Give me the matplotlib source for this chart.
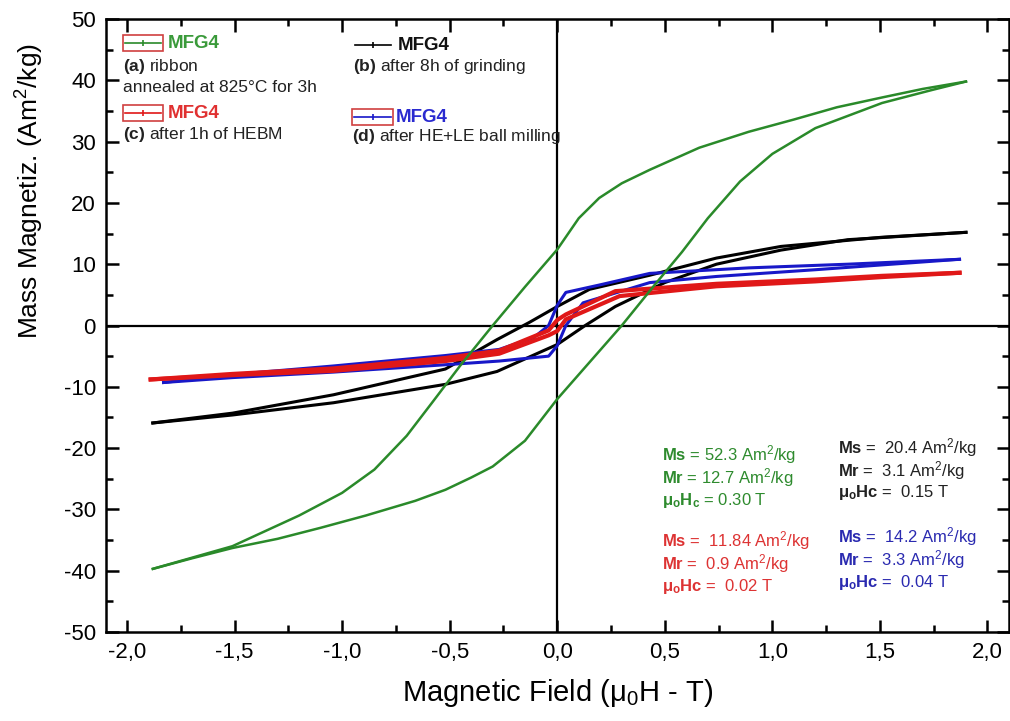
import matplotlib
matplotlib.use("Agg")
import matplotlib.pyplot as plt
from matplotlib.lines import Line2D
from matplotlib.patches import Rectangle
from matplotlib.ticker import MultipleLocator, FuncFormatter

plt.rcParams['font.family'] = ['Liberation Sans', 'DejaVu Sans']
plt.rcParams['mathtext.fontset'] = 'custom'
plt.rcParams['mathtext.rm'] = 'Liberation Sans'
plt.rcParams['mathtext.it'] = 'Liberation Sans:italic'
plt.rcParams['mathtext.bf'] = 'Liberation Sans:bold'

# ---------------- data ----------------
# (a) ribbon annealed -- green
green_desc_H = [1.90, 1.70, 1.51, 1.30, 1.10, 0.89, 0.66, 0.43, 0.30, 0.195, 0.10, 0.0, -0.15, -0.30, -0.45, -0.58, -0.70, -0.85, -1.00, -1.20, -1.51, -1.88]
green_desc_M = [39.8, 38.6, 37.2, 35.6, 33.6, 31.6, 29.0, 25.4, 23.2, 20.8, 17.5, 12.4, 6.3, 0.0, -6.5, -12.5, -18.0, -23.5, -27.3, -31.0, -36.0, -39.7]
green_asc_H = [-1.88, -1.70, -1.51, -1.30, -1.10, -0.89, -0.66, -0.52, -0.40, -0.30, -0.15, 0.0, 0.15, 0.30, 0.45, 0.58, 0.70, 0.85, 1.00, 1.20, 1.51, 1.74, 1.90]
green_asc_M = [-39.7, -38.0, -36.3, -34.8, -33.0, -31.0, -28.6, -26.8, -24.8, -23.0, -18.8, -12.0, -6.0, 0.0, 6.5, 12.0, 17.5, 23.5, 28.0, 32.2, 36.3, 38.4, 39.8]

# (b) after 8h of grinding -- black
black_desc_H = [1.90, 1.51, 1.04, 0.74, 0.43, 0.15, 0.0, -0.13, -0.28, -0.52, -1.04, -1.51, -1.88]
black_desc_M = [15.2, 14.4, 12.9, 11.0, 8.2, 5.9, 3.1, 0.5, -2.3, -7.1, -11.3, -14.3, -15.9]
black_asc_H = [-1.88, -1.51, -1.04, -0.52, -0.28, 0.0, 0.13, 0.27, 0.50, 0.74, 1.04, 1.35, 1.90]
black_asc_M = [-15.9, -14.6, -12.6, -9.6, -7.5, -3.1, 0.0, 3.1, 7.0, 10.0, 12.3, 14.0, 15.2]

# (c) after 1h of HEBM -- red
red_desc_H = [1.87, 1.51, 1.20, 0.74, 0.27, 0.04, 0.0, -0.04, -0.27, -0.52, -1.04, -1.51, -1.89]
red_desc_M = [8.6, 8.1, 7.5, 6.8, 5.6, 1.8, 0.9, -0.8, -4.1, -5.3, -7.0, -7.9, -8.8]
red_asc_H = [-1.89, -1.51, -1.04, -0.52, -0.27, -0.04, 0.0, 0.04, 0.29, 0.74, 1.20, 1.51, 1.87]
red_asc_M = [-8.8, -8.1, -7.4, -5.8, -4.6, -1.6, -0.9, 1.0, 4.8, 6.4, 7.2, 7.9, 8.6]

# (d) after HE+LE ball milling -- blue
blue_desc_H = [1.87, 1.35, 0.89, 0.43, 0.195, 0.04, 0.0, -0.04, -0.11, -0.27, -0.52, -1.04, -1.51, -1.83]
blue_desc_M = [10.8, 10.0, 9.4, 8.5, 6.6, 5.4, 3.3, 0.0, -2.0, -3.9, -4.9, -6.6, -8.0, -9.3]
blue_asc_H = [-1.83, -1.51, -1.04, -0.52, -0.27, -0.04, 0.0, 0.04, 0.12, 0.43, 0.74, 1.20, 1.87]
blue_asc_M = [-9.3, -8.5, -7.6, -6.4, -5.8, -5.0, -3.3, 0.0, 3.7, 7.0, 8.0, 9.1, 10.8]

x_ticks = [-2.0, -1.5, -1.0, -0.5, 0.0, 0.5, 1.0, 1.5, 2.0]
y_ticks = [-50, -40, -30, -20, -10, 0, 10, 20, 30, 40, 50]

GREEN = '#2a8a2a'
BLACK = '#000000'
RED = '#e01818'
BLUE = '#1818c8'

W, H = 1010, 721
fig = plt.figure(figsize=(W / 100, H / 100), dpi=100)
ax = fig.add_axes([105.5 / W, 1 - 632 / H, (1009 - 105.5) / W, (632 - 19) / H])

ax.plot(black_desc_H, black_desc_M, color=BLACK, lw=2.2, zorder=3)
ax.plot(black_asc_H, black_asc_M, color=BLACK, lw=2.2, zorder=3)
ax.plot(blue_desc_H, blue_desc_M, color=BLUE, lw=2.2, zorder=4)
ax.plot(blue_asc_H, blue_asc_M, color=BLUE, lw=2.2, zorder=4)
ax.plot(red_desc_H, red_desc_M, color=RED, lw=3.0, zorder=5)
ax.plot(red_asc_H, red_asc_M, color=RED, lw=3.0, zorder=5)
ax.plot(green_desc_H, green_desc_M, color=GREEN, lw=1.8, zorder=6)
ax.plot(green_asc_H, green_asc_M, color=GREEN, lw=1.8, zorder=6)

ax.axhline(0, color='black', lw=1.6, zorder=2)
ax.axvline(0, color='black', lw=1.6, zorder=2)

ax.set_xlim(-2.1, 2.1)
ax.set_ylim(-50, 50)
ax.set_xticks(x_ticks)
ax.set_yticks(y_ticks)
ax.xaxis.set_minor_locator(MultipleLocator(0.25))
ax.yaxis.set_minor_locator(MultipleLocator(5))
ax.xaxis.set_major_formatter(FuncFormatter(lambda v, p: f"{v:.1f}".replace('.', ',')))
ax.yaxis.set_major_formatter(FuncFormatter(lambda v, p: f"{v:.0f}"))
ax.tick_params(which='both', direction='in', top=True, right=True, width=1.8, labelsize=16)
ax.tick_params(which='major', length=9, pad=7)
ax.tick_params(which='minor', length=5)
for s in ax.spines.values():
    s.set_linewidth(1.8)

ax.set_xlabel("Magnetic Field (μ$_0$H - T)", fontsize=21, labelpad=10)
ax.set_ylabel("Mass Magnetiz. (Am$^2$/kg)", fontsize=19)
ax.yaxis.set_label_coords(-0.066, 0.72)

# ---------------- legend (manual) ----------------
def fx(px):
    return px / W

def fy(py):
    return 1 - py / H

def sample(x0, x1, y, color, box):
    fig.add_artist(Line2D([fx(x0 + 2), fx(x1 - 2)], [fy(y), fy(y)], color=color, lw=1.2))
    fig.add_artist(Line2D([fx((x0 + x1) / 2)], [fy(y)], color=color, marker='|', ms=4, mew=1.2))
    if box:
        fig.add_artist(Rectangle((fx(x0), fy(y + 8)), fx(x1) - fx(x0), fy(y - 8) - fy(y + 8),
                                 fill=False, edgecolor='#d04040', lw=1.2))

LFS = 12.5
sample(123, 163, 43, GREEN, True)
fig.text(fx(168), fy(44), "MFG4", color='#3a9a3a', fontsize=13.5, fontweight='bold', va='center')
fig.text(fx(123), fy(66), r"$\mathbf{(a)}$ ribbon", color='#222222', fontsize=LFS, va='center')
fig.text(fx(123), fy(87), "annealed at 825°C for 3h", color='#222222', fontsize=LFS, va='center')

sample(123, 163, 113, RED, True)
fig.text(fx(168), fy(113), "MFG4", color='#e03030', fontsize=13.5, fontweight='bold', va='center')
fig.text(fx(123), fy(134), r"$\mathbf{(c)}$ after 1h of HEBM", color='#222222', fontsize=LFS, va='center')

sample(353, 393, 45, BLACK, False)
fig.text(fx(398), fy(45), "MFG4", color='#111111', fontsize=13.5, fontweight='bold', va='center')
fig.text(fx(353), fy(67), r"$\mathbf{(b)}$ after 8h of grinding", color='#222222', fontsize=LFS, va='center')

sample(352, 393, 117, BLUE, True)
fig.text(fx(396), fy(117), "MFG4", color='#2a2ad0', fontsize=13.5, fontweight='bold', va='center')
fig.text(fx(352), fy(136), r"$\mathbf{(d)}$ after HE+LE ball milling", color='#222222', fontsize=LFS, va='center')

# ---------------- magnetic parameters ----------------
SFS = 12
stats = [
    (662, 455, r"$\mathbf{Ms}$ = 52.3 Am$^2$/kg", '#2e8b2e'),
    (662, 478, r"$\mathbf{Mr}$ = 12.7 Am$^2$/kg", '#2e8b2e'),
    (662, 500, r"$\mathbf{μ_oH_c}$ = 0.30 T", '#2e8b2e'),
    (662, 541, r"$\mathbf{Ms}$ =  11.84 Am$^2$/kg", '#dd3333'),
    (662, 564, r"$\mathbf{Mr}$ =  0.9 Am$^2$/kg", '#dd3333'),
    (662, 587, r"$\mathbf{μ_oHc}$ =  0.02 T", '#dd3333'),
    (838, 448, r"$\mathbf{Ms}$ =  20.4 Am$^2$/kg", '#222222'),
    (838, 471, r"$\mathbf{Mr}$ =  3.1 Am$^2$/kg", '#222222'),
    (838, 493, r"$\mathbf{μ_oHc}$ =  0.15 T", '#222222'),
    (838, 537, r"$\mathbf{Ms}$ =  14.2 Am$^2$/kg", '#2a2ab0'),
    (838, 560, r"$\mathbf{Mr}$ =  3.3 Am$^2$/kg", '#2a2ab0'),
    (838, 583, r"$\mathbf{μ_oHc}$ =  0.04 T", '#2a2ab0'),
]
for x, y, t, c in stats:
    fig.text(fx(x), fy(y), t, color=c, fontsize=SFS, va='center')

fig.savefig("out.png", dpi=100)
